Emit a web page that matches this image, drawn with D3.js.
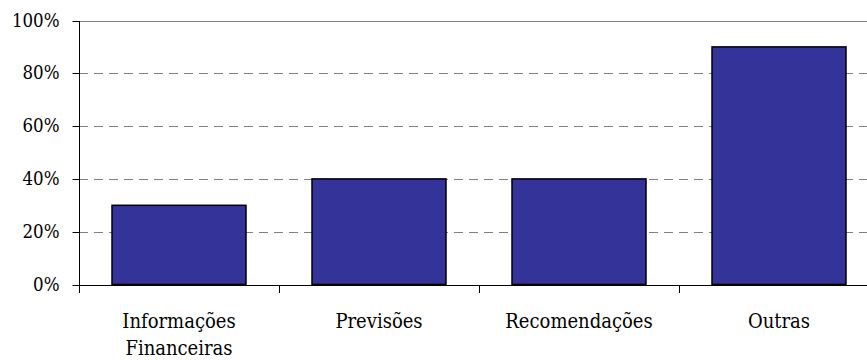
<html>
<head>
<style>
    body { margin: 0; background: #ffffff; }
    svg text { font-family: "DejaVu Serif Condensed", "DejaVu Serif", serif; font-stretch: condensed; fill: #000; }
</style>
</head>
<body>
<svg id="chart" width="867" height="360"></svg>
<script src="https://cdn.jsdelivr.net/npm/d3@7"></script>
<script>
    // data
    let categories = [["Informações", "Financeiras"], ["Previsões"], ["Recomendações"], ["Outras"]]
    let values = [30, 40, 40, 90]
    let yTicks = [0, 20, 40, 60, 80, 100]

    let svg = d3.select("#chart")
    let plotLeft = 79, plotTop = 20.5, plotBottom = 284.5, plotRight = 879

    let x = d3.scaleBand()
        .domain(d3.range(categories.length))
        .range([plotLeft, plotRight])
        .paddingInner(0.33)
        .paddingOuter(0.165)

    let y = d3.scaleLinear()
        .domain([0, 100])
        .range([plotBottom, plotTop])

    // gridlines
    svg.append("g")
        .selectAll("line")
        .data(yTicks.filter(d => d > 0))
        .enter()
        .append("line")
        .attr("x1", plotLeft)
        .attr("x2", 867)
        .attr("y1", d => Math.round(y(d)) + 0.5)
        .attr("y2", d => Math.round(y(d)) + 0.5)
        .attr("stroke", "#808080")
        .attr("stroke-width", 1)
        .attr("stroke-dasharray", d => d == 100 ? null : "9,6")

    // bars
    svg.append("g")
        .selectAll("rect")
        .data(values)
        .enter()
        .append("rect")
        .attr("x", (d, i) => x(i))
        .attr("width", x.bandwidth())
        .attr("y", d => y(d))
        .attr("height", d => y(0) - y(d))
        .attr("fill", "#333399")
        .attr("stroke", "#000")
        .attr("stroke-width", 1.5)

    // y axis
    let yAxis = svg.append("g")
        .attr("transform", "translate(" + (plotLeft + 0.5) + ",0)")
        .call(d3.axisLeft(y)
            .tickValues(yTicks)
            .tickSize(7)
            .tickSizeOuter(0)
            .tickPadding(13)
            .tickFormat(d => d + "%"))
    yAxis.select(".domain").remove()
    yAxis.attr("font-family", null).attr("font-size", null)
    yAxis.selectAll("text")
        .style("font-size", "18.5px")
        .attr("fill", "#000")
    yAxis.selectAll("line").attr("stroke", "#000")
    yAxis.selectAll(".tick").attr("transform", d => "translate(0," + (Math.round(y(d)) + 0.5) + ")")

    svg.append("line")
        .attr("x1", plotLeft + 0.5).attr("x2", plotLeft + 0.5)
        .attr("y1", Math.round(y(100))).attr("y2", Math.round(y(0)) + 8)
        .attr("stroke", "#000")

    // x axis
    svg.append("line")
        .attr("x1", plotLeft).attr("x2", 867)
        .attr("y1", Math.round(y(0)) + 0.5).attr("y2", Math.round(y(0)) + 0.5)
        .attr("stroke", "#000")

    let step = x.step()
    svg.append("g")
        .selectAll("line")
        .data(d3.range(1, categories.length))
        .enter()
        .append("line")
        .attr("x1", i => Math.round(plotLeft + i * step) + 0.5)
        .attr("x2", i => Math.round(plotLeft + i * step) + 0.5)
        .attr("y1", Math.round(y(0)))
        .attr("y2", Math.round(y(0)) + 8)
        .attr("stroke", "#000")

    let labels = svg.append("g")
        .selectAll("text")
        .data(categories)
        .enter()
        .append("text")
        .attr("text-anchor", "middle")
        .style("font-size", "20px")
        .attr("x", (d, i) => x(i) + x.bandwidth() / 2)
        .attr("y", 328)
    labels.selectAll("tspan")
        .data(d => d)
        .enter()
        .append("tspan")
        .attr("x", function () { return d3.select(this.parentNode).attr("x") })
        .attr("dy", (d, i) => i == 0 ? 0 : 27)
        .text(d => d)
</script>
</body>
</html>
